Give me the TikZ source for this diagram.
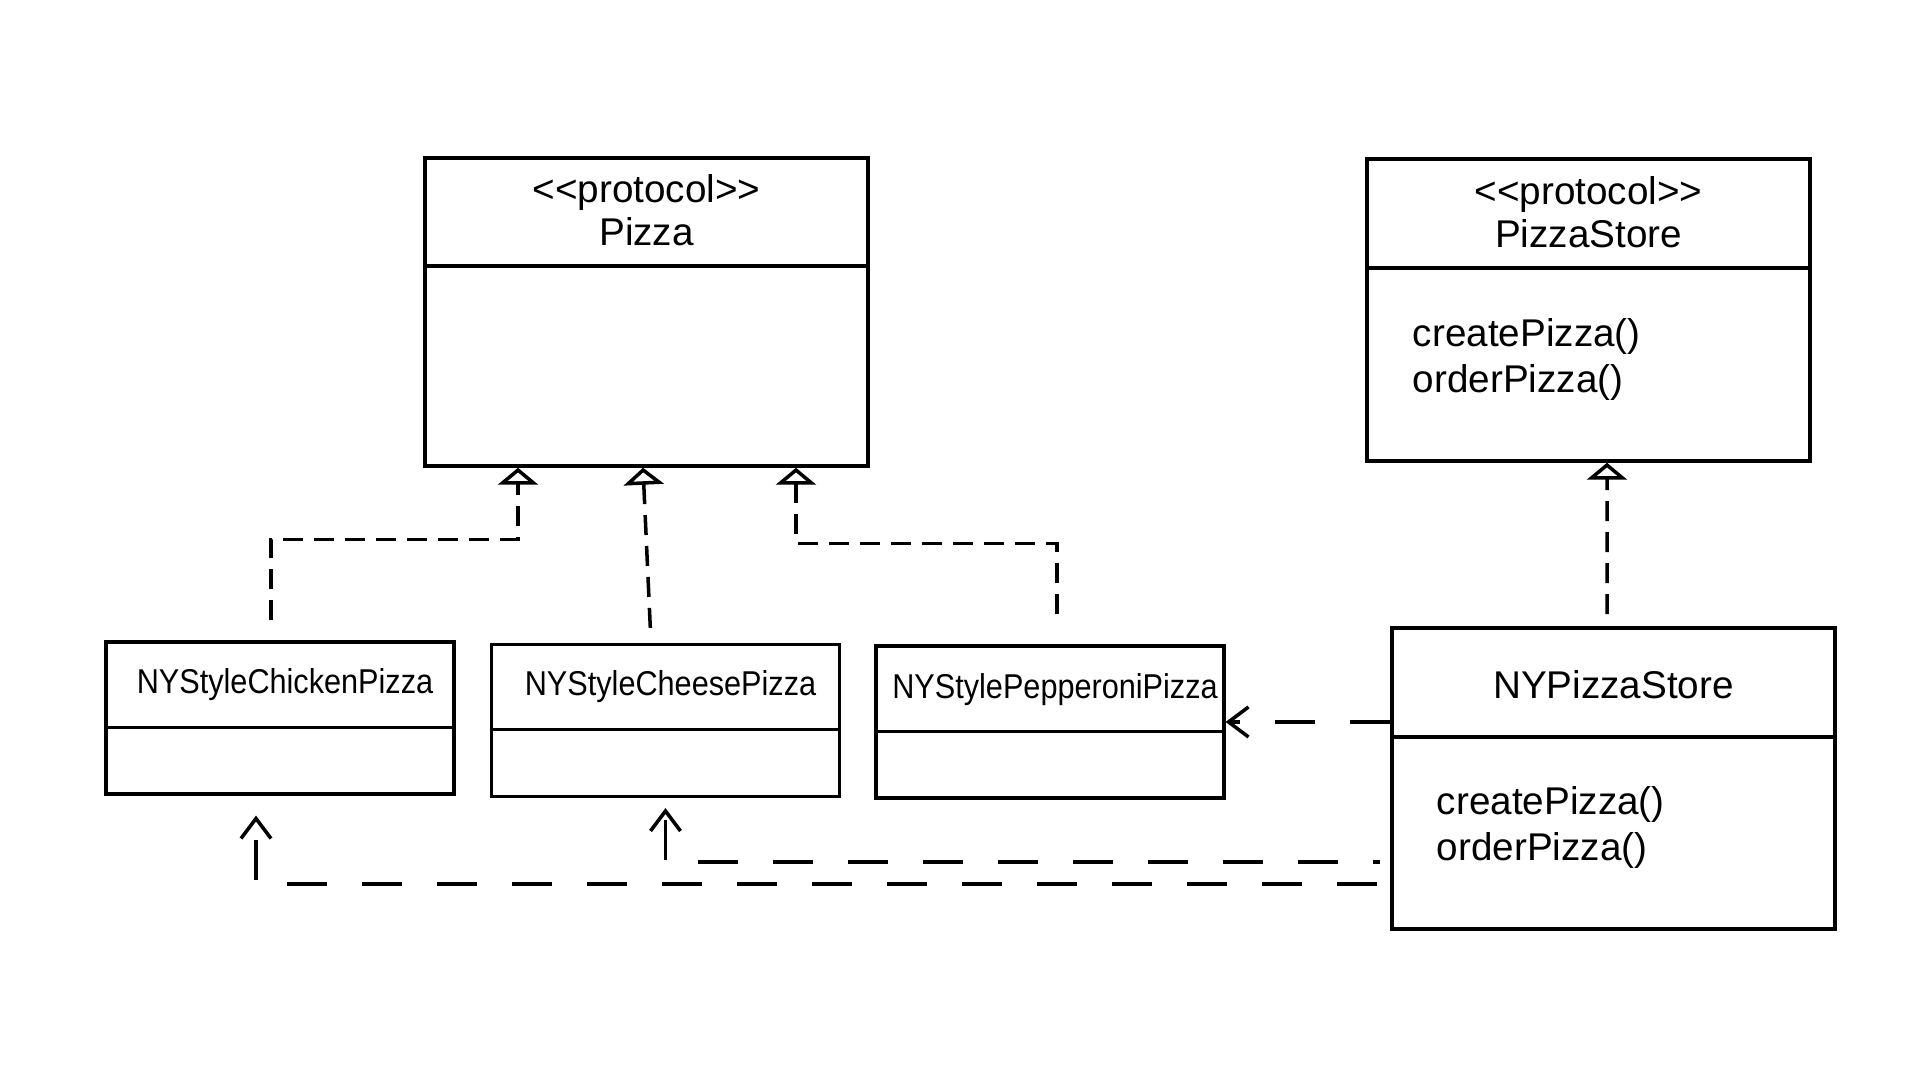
\documentclass[tikz,border=0pt]{standalone}
\usepackage{fontspec}
\usepackage{tikz}
\usetikzlibrary{positioning, arrows.meta, calc}
\newfontfamily\umlfont{Liberation Sans}
\newfontfamily\umlnarrow[FakeStretch=0.89]{Liberation Sans}

\tikzset{
  umlbox/.style={draw, line width=1pt, minimum width=4.43cm, inner sep=0pt},
  smallbox/.style={draw, line width=0.9pt, minimum width=3.48cm, minimum height=1.52cm, inner sep=0pt},
  umltext/.style={font=\umlfont\fontsize{11}{12.2}\selectfont, inner sep=0pt},
  smalltext/.style={font=\umlnarrow\fontsize{9.8}{11}\selectfont, inner sep=0pt},
  realize/.style={line width=1pt, dash pattern=on 2mm off 1.1mm,
    -{Triangle[open, width=4mm, length=1.7mm, fill=white]}},
  depend/.style={line width=1pt, dash pattern=on 4mm off 3.5mm,
    -{Straight Barb[length=2mm, width=3mm]}},
}

\begin{document}
\begin{tikzpicture}
  \useasboundingbox (0,0) rectangle (19.31,10.80);

  \node[umlbox, minimum height=3.08cm] (pizza) at (6.465,7.68) {};
  \node[umlbox, minimum height=3.02cm] (pizzastore) at (15.885,7.70) {};
  \node[umlbox, minimum height=3.01cm] (nystore) at (16.135,3.015) {};
  \node[smallbox] (chicken) at (2.80,3.62) {};
  \node[smallbox] (cheese) at (6.655,3.595) {};
  \node[smallbox] (pepperoni) at (10.50,3.58) {};

  \foreach \n/\d in {pizza/1.1, pizzastore/1.11, nystore/1.11}
    \draw[line width=1pt] ([yshift=-\d cm]\n.north west) -- ([yshift=-\d cm]\n.north east);
  \foreach \n in {chicken, cheese, pepperoni}
    \draw[line width=0.9pt] ([yshift=-8.7mm]\n.north west) -- ([yshift=-8.7mm]\n.north east);

  \node[umltext, align=center] (pizzatitle) at ([yshift=-5.4mm]pizza.north) {<<protocol>>\\Pizza};
  \node[umltext, align=center] (storetitle) at ([yshift=-5.5mm]pizzastore.north) {<<protocol>>\\PizzaStore};
  \node[umltext, align=left, anchor=west, font=\umlfont\fontsize{11}{13}\selectfont] (storeops)
    at ([xshift=4.7mm, yshift=-20.2mm]pizzastore.north west) {createPizza()\\orderPizza()};
  \node[umltext] (nytitle) at ([yshift=-5.8mm]nystore.north) {NYPizzaStore};
  \node[umltext, align=left, anchor=west, font=\umlfont\fontsize{11}{13}\selectfont] (nyops)
    at ([xshift=4.6mm, yshift=-20.1mm]nystore.north west) {createPizza()\\orderPizza()};
  \node[smalltext] (chickentitle) at ([xshift=0.5mm, yshift=-4.4mm]chicken.north) {NYStyleChickenPizza};
  \node[smalltext] (cheesetitle) at ([xshift=0.5mm, yshift=-4.4mm]cheese.north) {NYStyleCheesePizza};
  \node[smalltext] (pepperonititle) at ([xshift=0.5mm, yshift=-4.5mm]pepperoni.north) {NYStylePepperoniPizza};

  \draw[realize, shorten <=2mm] ([xshift=-0.9mm]chicken.north) -- ++(0,1.01) -| ([xshift=-12.85mm]pizza.south);
  \draw[realize, shorten <=1.5mm] ([xshift=-1.45mm]cheese.north) -- ([xshift=-0.35mm]pizza.south);
  \draw[realize, shorten <=3mm] ([xshift=0.7mm]pepperoni.north) -- ++(0,1.01) -| ([xshift=14.95mm]pizza.south);
  \draw[realize, shorten <=1.2mm] ([xshift=-0.65mm]nystore.north) -- ([xshift=1.85mm]pizzastore.south);

  \draw[depend] (nystore.west |- pepperoni.east) -- (pepperoni.east);
  \draw[depend, dash phase=3.3mm, shorten <=1mm, shorten >=1mm] ([yshift=-8.35mm]nystore.west) -| (cheese.south);
  \draw[depend, shorten <=1.3mm, shorten >=2mm] ([yshift=-10.55mm]nystore.west) -| ([xshift=-2.4mm]chicken.south);
\end{tikzpicture}
\end{document}
